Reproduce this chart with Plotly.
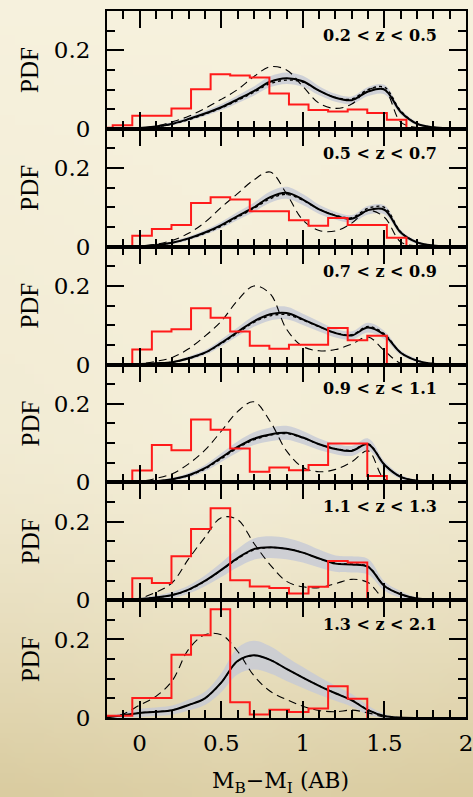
import base64, struct, zlib
import plotly.graph_objects as go
from plotly.subplots import make_subplots

# ---------------- data ----------------
panel_labels = ["0.2 &lt; z &lt; 0.5", "0.5 &lt; z &lt; 0.7", "0.7 &lt; z &lt; 0.9",
                "0.9 &lt; z &lt; 1.1", "1.1 &lt; z &lt; 1.3", "1.3 &lt; z &lt; 2.1"]

# histogram bin edges (colour M_B - M_I)
bin_edges = [-0.285, -0.165, -0.045, 0.075, 0.195, 0.315, 0.435, 0.555, 0.675, 0.795,
             0.915, 1.035, 1.155, 1.275, 1.395, 1.515, 1.635, 1.755, 1.875, 1.995, 2.115]

hist1 = [0.003, 0.009, 0.033, 0.033, 0.052, 0.101, 0.139, 0.136, 0.131, 0.090,
         0.062, 0.048, 0.044, 0.049, 0.040, 0.023, 0.002, 0.002, 0.002, 0.002]
hist2 = [0.0, 0.0, 0.028, 0.045, 0.055, 0.111, 0.126, 0.120, 0.090, 0.090,
         0.067, 0.053, 0.073, 0.055, 0.055, 0.023, 0.001, 0.001, 0.001, 0.001]
hist3 = [0.0, 0.0, 0.038, 0.084, 0.090, 0.143, 0.119, 0.084, 0.048, 0.040,
         0.050, 0.050, 0.093, 0.062, 0.073]
hist4 = [0.0, 0.0, 0.030, 0.095, 0.082, 0.160, 0.134, 0.086, 0.027, 0.038,
         0.031, 0.044, 0.099, 0.099, 0.016]
hist5 = [0.0, 0.0, 0.056, 0.044, 0.112, 0.181, 0.234, 0.051, 0.035, 0.031,
         0.017, 0.034, 0.100, 0.096]
hist6 = [0.006, 0.006, 0.051, 0.051, 0.161, 0.211, 0.277, 0.040, 0.009, 0.021,
         0.015, 0.024, 0.081, 0.049]

# model curves sampled on a colour grid
color_grid = [-0.2, -0.1, 0.0, 0.1, 0.2, 0.3, 0.4, 0.5, 0.6, 0.7, 0.8, 0.9, 1.0,
              1.1, 1.2, 1.3, 1.4, 1.5, 1.6, 1.7, 1.8, 1.9, 2.0]

solid1 = [0, 0, 0.002, 0.006, 0.013, 0.025, 0.039, 0.055, 0.075, 0.096, 0.120, 0.129,
          0.121, 0.097, 0.079, 0.073, 0.095, 0.100, 0.043, 0.013, 0.004, 0.001, 0]
dot1 = [0, 0, 0.002, 0.005, 0.012, 0.023, 0.037, 0.053, 0.072, 0.093, 0.115, 0.124,
        0.119, 0.097, 0.080, 0.076, 0.100, 0.106, 0.046, 0.013, 0.004, 0.001, 0]
dash1 = [0, 0, 0.002, 0.007, 0.018, 0.032, 0.052, 0.075, 0.100, 0.133, 0.158, 0.150,
         0.108, 0.065, 0.052, 0.063, 0.100, 0.100, 0.017, 0.003, 0, 0, 0]

solid2 = [0, 0, 0.001, 0.004, 0.010, 0.021, 0.036, 0.055, 0.078, 0.100, 0.126, 0.137,
          0.120, 0.095, 0.079, 0.071, 0.093, 0.094, 0.036, 0.011, 0.003, 0.001, 0]
dot2 = [0, 0, 0.001, 0.004, 0.010, 0.020, 0.034, 0.052, 0.075, 0.097, 0.122, 0.133,
        0.118, 0.095, 0.080, 0.074, 0.098, 0.100, 0.038, 0.011, 0.003, 0.001, 0]
dash2 = [0, 0, 0.002, 0.006, 0.016, 0.034, 0.062, 0.100, 0.135, 0.170, 0.190, 0.135,
         0.068, 0.041, 0.040, 0.060, 0.092, 0.075, 0.012, 0.002, 0, 0, 0]

solid3 = [0, 0, 0.001, 0.003, 0.006, 0.016, 0.030, 0.055, 0.083, 0.110, 0.128, 0.131,
          0.115, 0.097, 0.080, 0.074, 0.094, 0.075, 0.030, 0.010, 0.002, 0, 0]
dot3 = [0, 0, 0.001, 0.003, 0.006, 0.015, 0.029, 0.053, 0.080, 0.107, 0.124, 0.127,
        0.113, 0.096, 0.081, 0.076, 0.097, 0.078, 0.030, 0.010, 0.002, 0, 0]
dash3 = [0, 0, 0.002, 0.008, 0.018, 0.040, 0.072, 0.110, 0.163, 0.200, 0.180, 0.090,
         0.046, 0.035, 0.038, 0.052, 0.070, 0.035, 0.003, 0, 0, 0, 0]

solid4 = [0, 0, 0.001, 0.003, 0.008, 0.018, 0.036, 0.063, 0.090, 0.111, 0.122, 0.126,
          0.114, 0.097, 0.085, 0.080, 0.097, 0.045, 0.014, 0.004, 0.001, 0, 0]
dot4 = [0, 0, 0.001, 0.003, 0.008, 0.017, 0.034, 0.060, 0.087, 0.108, 0.120, 0.124,
        0.113, 0.097, 0.086, 0.082, 0.098, 0.046, 0.014, 0.004, 0.001, 0, 0]
dash4 = [0, 0, 0.002, 0.010, 0.022, 0.047, 0.082, 0.130, 0.180, 0.205, 0.155, 0.080,
         0.038, 0.027, 0.033, 0.052, 0.080, 0.008, 0, 0, 0, 0, 0]

solid5 = [0, 0.001, 0.003, 0.007, 0.013, 0.027, 0.049, 0.077, 0.107, 0.130, 0.135, 0.131,
          0.121, 0.106, 0.093, 0.091, 0.085, 0.036, 0.015, 0.004, 0.001, 0, 0]
dot5 = [0, 0.001, 0.003, 0.007, 0.013, 0.026, 0.048, 0.076, 0.105, 0.128, 0.134, 0.131,
        0.121, 0.106, 0.094, 0.092, 0.086, 0.037, 0.015, 0.004, 0.001, 0, 0]
dash5 = [0, 0.001, 0.005, 0.020, 0.045, 0.105, 0.160, 0.210, 0.205, 0.145, 0.090, 0.048,
         0.034, 0.032, 0.042, 0.053, 0.045, 0.004, 0, 0, 0, 0, 0]

solid6 = [0.002, 0.007, 0.013, 0.016, 0.020, 0.033, 0.050, 0.090, 0.145, 0.160, 0.148,
          0.125, 0.103, 0.082, 0.063, 0.045, 0.020, 0.005, 0.001, 0, 0, 0, 0]
dot6 = [0.002, 0.007, 0.013, 0.016, 0.020, 0.033, 0.050, 0.090, 0.144, 0.159, 0.148,
        0.125, 0.103, 0.082, 0.063, 0.046, 0.021, 0.005, 0.001, 0, 0, 0, 0]
dash6 = [0.001, 0.010, 0.033, 0.055, 0.095, 0.175, 0.212, 0.212, 0.170, 0.108, 0.068,
         0.047, 0.030, 0.019, 0.016, 0.020, 0.013, 0.002, 0, 0, 0, 0, 0]

# relative width of the grey uncertainty band around the model
band_rel = [0.09, 0.09, 0.10, 0.11, 0.16, 0.18]
band_floor = [0.003, 0.003, 0.003, 0.004, 0.006, 0.008]

hists = [hist1, hist2, hist3, hist4, hist5, hist6]
solids = [solid1, solid2, solid3, solid4, solid5, solid6]
dots = [dot1, dot2, dot3, dot4, dot5, dot6]
dashes = [dash1, dash2, dash3, dash4, dash5, dash6]

# ---------------- parchment background ----------------
def parchment_png(w=48, h=80):
    light = (246, 241, 221)
    dark = (214, 199, 152)
    raw = bytearray()
    for j in range(h):
        t = j / (h - 1)
        raw.append(0)
        for i in range(w):
            u = i / (w - 1)
            edge = abs(2 * u - 1)
            k = 0.12 * t + 0.65 * (max(0.0, t - 0.55) / 0.45) ** 1.4 + 0.12 * edge * t
            k = min(1.0, k)
            for c in range(3):
                raw.append(int(round(light[c] * (1 - k) + dark[c] * k)))
    def chunk(tag, data):
        c = struct.pack(">I", len(data)) + tag + data
        return c + struct.pack(">I", zlib.crc32(tag + data) & 0xffffffff)
    png = b"\x89PNG\r\n\x1a\n"
    png += chunk(b"IHDR", struct.pack(">IIBBBBB", w, h, 8, 2, 0, 0, 0))
    png += chunk(b"IDAT", zlib.compress(bytes(raw), 9))
    png += chunk(b"IEND", b"")
    return "data:image/png;base64," + base64.b64encode(png).decode()

# ---------------- figure ----------------
W, H = 473, 797
ML, MR, MT, MB = 107, 7, 11, 79
PW, PH = W - ML - MR, H - MT - MB

fig = make_subplots(rows=6, cols=1, shared_xaxes=True, vertical_spacing=0)

for k in range(6):
    r = k + 1
    s = solids[k]
    half = [band_rel[k] * v + band_floor[k] * min(1.0, v / 0.01) for v in s]
    lo = [max(0.0, v - h) for v, h in zip(s, half)]
    hi = [v + h for v, h in zip(s, half)]
    fig.add_trace(go.Scatter(x=color_grid, y=lo, mode="lines", line=dict(width=0, shape="spline"),
                             hoverinfo="skip", showlegend=False), row=r, col=1)
    fig.add_trace(go.Scatter(x=color_grid, y=hi, mode="lines", line=dict(width=0, shape="spline"),
                             fill="tonexty", fillcolor="rgba(198,201,214,0.8)",
                             hoverinfo="skip", showlegend=False), row=r, col=1)
    fig.add_trace(go.Scatter(x=color_grid, y=dashes[k], mode="lines",
                             line=dict(color="black", width=1.1, dash="8px,5px", shape="spline"),
                             showlegend=False), row=r, col=1)
    fig.add_trace(go.Scatter(x=color_grid, y=dots[k], mode="lines",
                             line=dict(color="black", width=1.3, dash="dot", shape="spline"),
                             showlegend=False), row=r, col=1)
    fig.add_trace(go.Scatter(x=color_grid, y=s, mode="lines",
                             line=dict(color="black", width=2, shape="spline"),
                             showlegend=False), row=r, col=1)
    hv = hists[k]
    n = len(hv)
    fig.add_trace(go.Scatter(x=bin_edges[:n + 1], y=list(hv) + [0.0], mode="lines",
                             line=dict(color="#ff1a1a", width=2, shape="hv"),
                             showlegend=False), row=r, col=1)

tick_font = dict(family="DejaVu Serif", size=23, color="black")
for k in range(6):
    r = k + 1
    fig.update_xaxes(range=[-0.2, 2.0], tick0=0, dtick=0.5, ticks="inside", ticklen=17,
                     tickwidth=1.5, tickcolor="black",
                     minor=dict(dtick=0.1, tick0=0, ticks="inside", ticklen=8,
                                tickwidth=1.5, tickcolor="black"),
                     showline=True, linecolor="black", linewidth=2, mirror="ticks",
                     showgrid=False, zeroline=False, tickfont=tick_font, automargin=False,
                     ticklabeloverflow="allow",
                     showticklabels=(r == 6), ticklabelstandoff=3, row=r, col=1)
    fig.update_yaxes(range=[0, 0.3], tick0=0, dtick=0.2, ticks="inside", ticklen=17,
                     tickwidth=1.5, tickcolor="black",
                     minor=dict(dtick=0.05, tick0=0, ticks="inside", ticklen=8,
                                tickwidth=1.5, tickcolor="black"),
                     showline=True, linecolor="black", linewidth=2, mirror="ticks",
                     showgrid=False, zeroline=False, tickfont=tick_font, automargin=False,
                     ticklabeloverflow="allow",
                     ticklabelstandoff=10, row=r, col=1)

annotations = []
for k in range(6):
    suffix = "" if k == 0 else str(k + 1)
    annotations.append(dict(text="PDF", textangle=-90, xref="paper", yref=f"y{suffix} domain",
                            x=(30 - ML) / PW, y=0.5, xanchor="center", yanchor="middle",
                            showarrow=False,
                            font=dict(family="Liberation Serif", size=25, color="black")))
    annotations.append(dict(text="<b>" + panel_labels[k] + "</b>", xref=f"x{suffix}",
                            yref=f"y{suffix}",
                            x=1.835, y=0.238, xanchor="right", yanchor="middle", showarrow=False,
                            font=dict(family="DejaVu Serif", size=16, color="black")))
annotations.append(dict(text="M<sub>B</sub>\u2212M<sub>I</sub> (AB)", xref="paper", yref="paper",
                        x=(280 - ML) / PW, y=-(782 - (MT + PH)) / PH, xanchor="center",
                        yanchor="middle", showarrow=False,
                        font=dict(family="DejaVu Serif", size=22, color="black")))

fig.update_layout(
    width=W, height=H,
    margin=dict(l=ML, r=MR, t=MT, b=MB, pad=0, autoexpand=False),
    paper_bgcolor="#f2ecd4",
    plot_bgcolor="rgba(0,0,0,0)",
    annotations=annotations,
    images=[dict(source=parchment_png(), xref="paper", yref="paper",
                 x=-ML / PW, y=1 + MT / PH, sizex=W / PW, sizey=H / PH,
                 sizing="stretch", xanchor="left", yanchor="top", layer="below")],
    showlegend=False,
)

fig.write_html("out.html")
